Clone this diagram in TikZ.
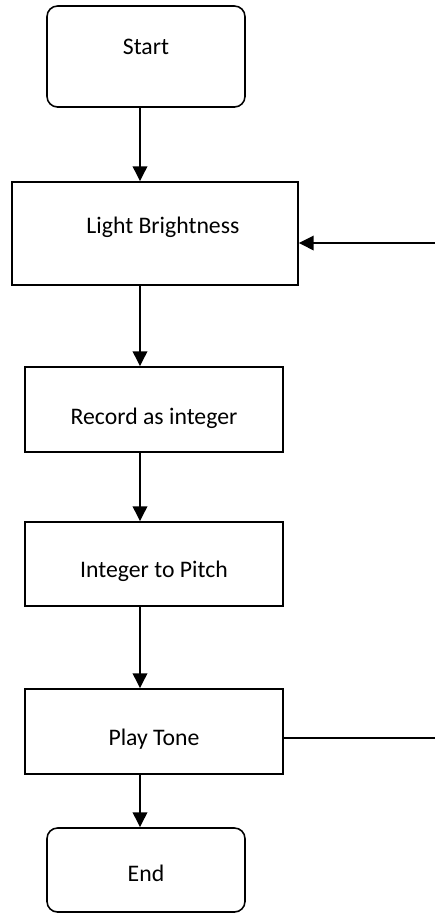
\documentclass[tikz,border=0pt]{standalone}
\usepackage{fontspec}
\setmainfont{Carlito}
\usetikzlibrary{arrows.meta}
\tikzset{every node/.style={draw = black, line width = 0.9pt, font = \fontsize{13.5}{16}\selectfont}}
\tikzset{every edge/.style={draw = black, line width = 0.9pt, -{Triangle[length = 8.5pt, width = 8.3pt]}}}
\tikzset{terminal/.style={rounded corners = 6pt, minimum width = 3.96cm}}
\tikzset{process/.style={minimum width = 5.16cm, minimum height = 1.7cm}}
% text set off the box centre by (2*dx, dy)
\newcommand{\flowtext}[3]{\raisebox{#2}[0pt][0pt]{\makebox[0pt]{\hspace*{#1}#3}}}

\begin{document}
\begin{tikzpicture}[node distance = 3.5cm]
  \useasboundingbox (0,0) rectangle (8.7,-18.26);

  \node (start) [terminal, minimum height = 2.02cm] at (2.92,-1.13) {\flowtext{0pt}{1.2pt}{Start}};
  \node (light) [minimum width = 5.72cm, minimum height = 2.06cm, node distance = 3.54cm, below of = start, xshift = 0.18cm] {\flowtext{9pt}{0pt}{Light Brightness}};
  \node (record) [process, node distance = 3.52cm, below of = light, xshift = -0.02cm] {\flowtext{0pt}{-8.3pt}{Record as integer}};
  \node (pitch) [process, minimum height = 1.68cm, node distance = 3.09cm, below of = record] {\flowtext{0pt}{-7.8pt}{Integer to Pitch}};
  \node (tone) [process, node distance = 3.35cm, below of = pitch] {\flowtext{0pt}{-8.1pt}{Play Tone}};
  \node (finish) [terminal, minimum height = 1.68cm, node distance = 2.77cm, below of = tone, xshift = -0.16cm] {\flowtext{0pt}{-6.6pt}{End}};

  \coordinate (spine) at (2.8,0);
  \coordinate (loopin) at (8.7,-4.86);
  \coordinate (loopout) at (8.7,-14.76);

  \path (start.south -| spine) edge (light.north -| spine);
  \path (light.south -| spine) edge (record.north -| spine);
  \path (record.south -| spine) edge (pitch.north -| spine);
  \path (pitch.south -| spine) edge (tone.north -| spine);
  \path (tone.south -| spine) edge (finish.north -| spine);

  \path (loopin) edge (light.east |- loopin);
  \draw [line width = 0.9pt] (tone.east |- loopout) -- (loopout);
\end{tikzpicture}
\end{document}
